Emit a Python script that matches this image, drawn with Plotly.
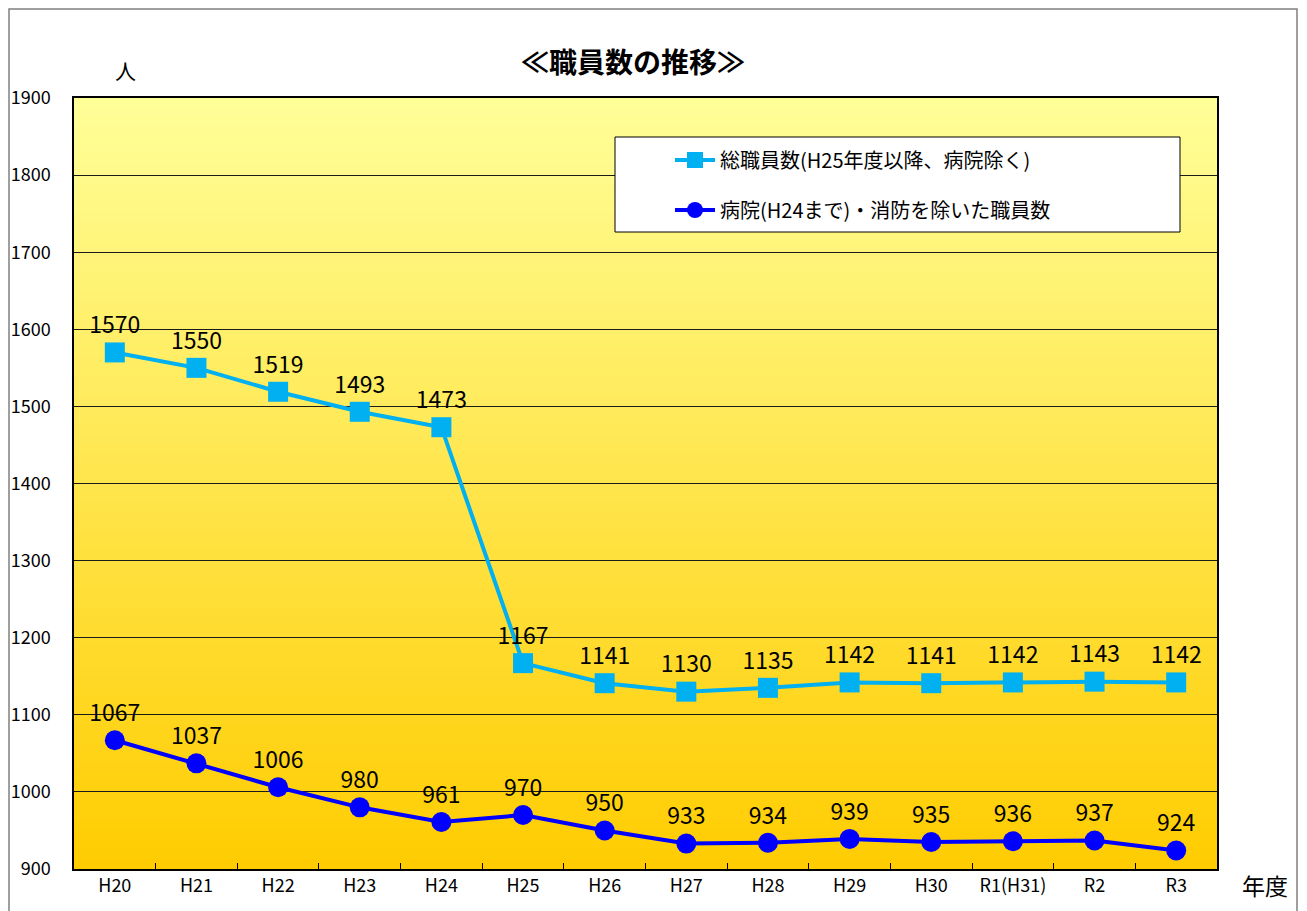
import plotly.graph_objects as go

categories = ["H20", "H21", "H22", "H23", "H24", "H25", "H26", "H27", "H28", "H29", "H30", "R1(H31)", "R2", "R3"]
total_staff = [1570, 1550, 1519, 1493, 1473, 1167, 1141, 1130, 1135, 1142, 1141, 1142, 1143, 1142]
excl_staff = [1067, 1037, 1006, 980, 961, 970, 950, 933, 934, 939, 935, 936, 937, 924]
name_total = "総職員数(H25年度以降、病院除く)"
name_excl = "病院(H24まで)・消防を除いた職員数"
y_ticks = [900, 1000, 1100, 1200, 1300, 1400, 1500, 1600, 1700, 1800, 1900]

FONT = "Noto Sans CJK JP"

# figure-pixel geometry of plot area (page is offset by 8px body margin)
L, R, T, B = 66, 1209, 90, 861
W, H = R - L, B - T


def px(x):
    return (x - 8 - L) / W


def py(y):
    return (B - (y - 8)) / H


fig = go.Figure()
fig.add_trace(go.Scatter(
    x=categories, y=total_staff, name=name_total, mode="lines+markers+text",
    line=dict(color="#00B0F0", width=4),
    marker=dict(symbol="square", size=20, color="#00B0F0"),
    text=[str(v) for v in total_staff], textposition="top center",
    textfont=dict(size=23, color="#000000", family=FONT), cliponaxis=False,
    legend="legend",
))
fig.add_trace(go.Scatter(
    x=categories, y=excl_staff, name=name_excl, mode="lines+markers+text",
    line=dict(color="#0000FF", width=4),
    marker=dict(symbol="circle", size=20, color="#0000FF"),
    text=[str(v) for v in excl_staff], textposition="top center",
    textfont=dict(size=23, color="#000000", family=FONT), cliponaxis=False,
    legend="legend2",
))

# vertical gradient background (light yellow -> gold)
shapes = []
n = 80
top = (255, 255, 153)
bot = (255, 204, 0)
for i in range(n):
    t = (i + 0.5) / n
    r = round(top[0] + (bot[0] - top[0]) * t)
    g = round(top[1] + (bot[1] - top[1]) * t)
    b = round(top[2] + (bot[2] - top[2]) * t)
    shapes.append(dict(type="rect", xref="x domain", yref="y domain",
                       x0=0, x1=1, y0=1 - (i + 1) / n, y1=1 - i / n + 0.001,
                       fillcolor=f"rgb({r},{g},{b})", line=dict(width=0), layer="below"))
# outer chart border
shapes.append(dict(type="rect", xref="paper", yref="paper",
                   x0=(1 - L) / W, x1=(1289 - L) / W,
                   y0=(B - 930) / H, y1=(B - 1) / H,
                   line=dict(color="#808080", width=1.5), fillcolor="rgba(0,0,0,0)", layer="below"))
# legend box
shapes.append(dict(type="rect", xref="paper", yref="paper",
                   x0=px(615), x1=px(1180), y0=py(232), y1=py(137),
                   line=dict(color="#000000", width=1), fillcolor="white", layer="above"))

legend_common = dict(xanchor="left", yanchor="middle", bgcolor="rgba(0,0,0,0)",
                     borderwidth=0, font=dict(size=20, family=FONT), itemwidth=40)

fig.update_layout(
    width=1307, height=911,
    margin=dict(l=L, r=1307 - R, t=T, b=911 - B, autoexpand=False),
    paper_bgcolor="white", plot_bgcolor="rgba(0,0,0,0)",
    font=dict(family=FONT, color="#000000"),
    title=dict(text="<b>≪職員数の推移≫</b>", x=(633 - 8) / 1307, xanchor="center",
               y=1 - (63 - 8) / 911, yanchor="middle", font=dict(size=28, family=FONT)),
    showlegend=True,
    legend=dict(x=px(670), y=py(160), **legend_common),
    legend2=dict(x=px(670), y=py(210), **legend_common),
    shapes=shapes,
    annotations=[
        dict(text="人", xref="paper", yref="paper", x=px(125), y=py(70),
             showarrow=False, font=dict(size=21, family=FONT), xanchor="center", yanchor="middle"),
        dict(text="年度", xref="paper", yref="paper", x=px(1265), y=py(885),
             showarrow=False, font=dict(size=23, family=FONT), xanchor="center", yanchor="middle"),
    ],
)
fig.update_xaxes(
    type="category", tickson="boundaries", ticks="inside", ticklen=6, tickcolor="#000",
    showline=True, linecolor="#000", linewidth=1.5, mirror=True, showgrid=False,
    tickfont=dict(size=18, family=FONT), range=[-0.5, len(categories) - 0.5], automargin=False,
)
fig.update_yaxes(
    range=[900, 1900], tickvals=y_ticks, ticks="", showgrid=True, gridcolor="#1a1a1a", gridwidth=1,
    showline=True, linecolor="#000", linewidth=1.5, mirror=True, zeroline=False,
    tickfont=dict(size=18, family=FONT), ticklabelstandoff=18, automargin=False,
)
fig.write_html("out.html")
